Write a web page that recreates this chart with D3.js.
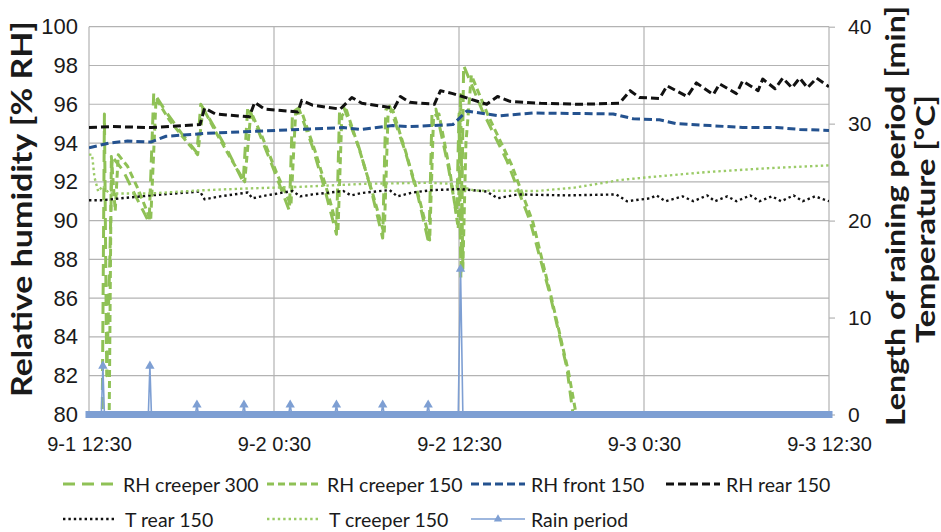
<!DOCTYPE html>
<html>
<head>
<meta charset="utf-8">
<script src="https://cdn.jsdelivr.net/npm/d3@7"></script>
<style>
  body { margin: 0; background: #fff; }
  svg { font-family: Lato, "DejaVu Sans", sans-serif; }
  .grid line { stroke: #b3b3b3; stroke-width: 1.2; }
  .axis text { fill: #1a1a1a; }
  .axis .tick line { stroke: #b3b3b3; stroke-width: 1.2; }
  .title { font-weight: bold; fill: #1a1a1a; }
</style>
</head>
<body>
<div id="chart"></div>
<script>
// x values are hours since 9-1 12:30
const tickHours = [0, 12, 24, 36, 48];
const tickLabels = ['9-1 12:30', '9-2 0:30', '9-2 12:30', '9-3 0:30', '9-3 12:30'];
const rhTicks = [80, 82, 84, 86, 88, 90, 92, 94, 96, 98, 100];
const rightTicks = [0, 10, 20, 30, 40];

// RH creeper 300 (% RH, left axis)
const creeper300Hours = [0, 0.85, 1.0, 1.15, 1.35, 1.5, 2.2, 3.0, 3.9, 4.2, 5.0, 6.0, 7.0,
  7.25, 8.0, 9.0, 10.0, 10.3, 11.0, 12.0, 13.0, 13.2, 13.6, 14.5, 15.3, 16.05,
  16.25, 16.5, 17.5, 18.3, 19.05, 19.25, 19.5, 20.5, 21.3, 22.05, 22.25, 22.5, 23.3, 23.85,
  24.0, 24.12, 24.3, 25.5, 27.1, 28.6, 29.9, 31.0, 31.4, 31.7, 48];
const creeper300RH = [79, 79, 95.5, 82, 88, 93.3, 92.6, 91.3, 89.9, 96.6, 95.6, 94.5, 93.5,
  96.0, 95.0, 93.6, 92.0, 95.9, 94.6, 92.6, 90.5, 95.6, 95.8, 93.8, 91.6, 89.3,
  95.6, 95.9, 93.8, 91.6, 89.1, 95.7, 95.9, 93.6, 91.4, 88.8, 95.6, 95.75, 92.8, 90.3,
  95.5, 87.0, 98.0, 95.7, 93.1, 90.0, 86.2, 82.4, 80.0, 78.5, 78.5];

// RH creeper 150
const creeper150Hours = [0, 1.3, 1.45, 1.7, 1.9, 2.5, 3.2, 4.0, 4.35, 5.2, 6.2, 7.05,
  7.4, 8.2, 9.2, 10.1, 10.5, 11.2, 12.2, 13.1, 13.4, 13.8, 14.7, 15.5, 16.15,
  16.4, 16.7, 17.6, 18.4, 19.15, 19.4, 19.7, 20.6, 21.4, 22.1, 22.35, 22.7, 23.4, 23.95,
  24.1, 24.25, 24.45, 24.8, 25.9, 27.4, 28.8, 30.0, 31.1, 31.6, 31.9, 48];
const creeper150RH = [79, 79, 93.3, 90.5, 93.4, 92.8, 91.6, 90.0, 96.3, 95.2, 94.2, 93.4,
  95.8, 94.6, 93.2, 92.0, 95.6, 94.4, 92.4, 90.8, 95.5, 95.6, 93.5, 91.4, 89.5,
  95.4, 95.7, 93.5, 91.4, 89.3, 95.5, 95.7, 93.4, 91.2, 89.0, 95.4, 95.5, 92.6, 89.6,
  96.5, 87.5, 94, 97.5, 95.4, 92.9, 89.9, 86.0, 82.2, 80.0, 78.5, 78.5];

// RH front 150
const frontHours = [0, 1.3, 2.5, 4.0, 5.0, 7.6, 10.6, 13.7, 16.5, 17.6, 19.7, 20.8, 23.6,
  24.5, 26.6, 28.8, 34.0, 35.3, 37.0, 38.1, 40.3, 42.4, 44.6, 46.1, 48];
const frontRH = [93.75, 94.0, 94.1, 94.05, 94.35, 94.5, 94.6, 94.7, 94.8, 94.7, 94.9, 94.85, 94.95,
  95.65, 95.4, 95.55, 95.5, 95.25, 95.2, 95.0, 94.9, 94.8, 94.8, 94.7, 94.65];

// RH rear 150
const rearHours = [0, 1.4, 4.0, 7.2, 7.5, 8.2, 10.4, 10.75, 11.4, 13.55, 13.8, 14.5, 16.3,
  17.05, 17.7, 19.8, 20.2, 20.8, 22.4, 22.8, 23.6, 25.8, 26.5, 27.3, 29.3, 31.8, 34.4,
  35.1, 35.7, 37.0, 37.5, 38.8, 39.4, 40.5, 40.9, 42.0, 42.4, 43.4, 43.7, 44.5, 45.0,
  45.6, 46.1, 46.6, 47.2, 48];
const rearRH = [94.8, 94.85, 94.8, 94.95, 95.8, 95.5, 95.35, 96.1, 95.75, 95.6, 96.2, 95.95, 95.75,
  96.35, 96.05, 95.8, 96.4, 96.1, 96.0, 96.7, 96.55, 96.0, 96.4, 96.15, 96.05, 96.0, 96.05,
  96.7, 96.35, 96.3, 96.95, 96.4, 97.1, 96.5, 97.05, 96.55, 97.2, 96.7, 97.3, 96.8, 97.35,
  96.85, 97.35, 96.85, 97.35, 96.9];

// T rear 150 (°C, right axis)
const tRearHours = [0, 0.8, 4.0, 7.2, 7.5, 8.5, 10.3, 10.6, 11.5, 13.2, 13.7, 14.5, 16.5,
  17.0, 17.7, 19.5, 20.0, 21.0, 22.3, 24.1, 25.8, 26.5, 27.8, 31.0, 34.2, 34.9, 36.4,
  36.8, 37.4, 38.5, 39.2, 40.1, 40.6, 41.4, 42.0, 42.9, 43.5, 44.3, 44.9, 45.7, 46.3, 47.1, 48];
const tRear = [22.1, 22.1, 22.6, 23.0, 22.2, 22.5, 22.9, 22.3, 22.6, 23.05, 22.5, 22.7, 23.05,
  22.6, 22.85, 23.15, 22.5, 22.9, 23.15, 23.25, 23.0, 22.3, 22.7, 22.6, 22.7, 22.0, 22.3,
  22.6, 22.0, 22.5, 22.0, 22.6, 22.0, 22.5, 22.0, 22.6, 22.0, 22.5, 22.0, 22.6, 22.0, 22.5, 22.0];

// T creeper 150
const tCreeperHours = [0, 0.2, 0.35, 0.6, 0.9, 1.3, 4.0, 7.0, 10.0, 14.0, 18.0, 22.0, 23.5,
  25.0, 29.0, 31.5, 34.5, 36.5, 40.0, 44.0, 48.0];
const tCreeper = [26.8, 26.8, 24.5, 23.0, 23.6, 22.8, 22.8, 23.1, 23.3, 23.5, 23.8, 23.9, 23.8,
  23.1, 23.05, 23.4, 24.2, 24.5, 25.0, 25.4, 25.7];

// Rain period (min, right axis)
const rainHours = [0, 0.8, 0.9, 1.0, 3.85, 3.95, 4.05, 6.9, 7.0, 7.1, 9.95, 10.05, 10.15,
  12.95, 13.05, 13.15, 15.95, 16.05, 16.15, 18.95, 19.05, 19.15, 21.9, 22.0, 22.1,
  23.95, 24.1, 24.25, 48];
const rainMinutes = [0, 0, 5, 0, 0, 5, 0, 0, 1, 0, 0, 1, 0,
  0, 1, 0, 0, 1, 0, 0, 1, 0, 0, 1, 0,
  0, 15, 0, 0];

const W = 941, H = 532;
const plot = {left: 89, right: 829, top: 26.7, bottom: 414.5};

const svg = d3.select('#chart').append('svg')
  .attr('width', W).attr('height', H);

const x = d3.scaleLinear().domain([0, 48]).range([plot.left, plot.right]);
const yL = d3.scaleLinear().domain([80, 100]).range([plot.bottom, plot.top]);
const yR = d3.scaleLinear().domain([0, 40]).range([plot.bottom, plot.top]);

// gridlines
const grid = svg.append('g').attr('class', 'grid');
grid.selectAll('line.h').data(rhTicks).join('line')
  .attr('x1', plot.left).attr('x2', plot.right)
  .attr('y1', d => yL(d)).attr('y2', d => yL(d));
grid.selectAll('line.v').data(tickHours).join('line')
  .attr('x1', d => x(d)).attr('x2', d => x(d))
  .attr('y1', plot.top).attr('y2', plot.bottom);

// axes
const leftAxis = svg.append('g').attr('class', 'axis')
  .attr('transform', `translate(${plot.left},0)`)
  .call(d3.axisLeft(yL).tickValues(rhTicks).tickSize(0).tickPadding(11));
leftAxis.selectAll('text').style('font-size', '22px');

const rightAxis = svg.append('g').attr('class', 'axis')
  .attr('transform', `translate(${plot.right},0)`)
  .call(d3.axisRight(yR).tickValues(rightTicks).tickSize(6).tickPadding(13));
rightAxis.selectAll('text').style('font-size', '21px');

const bottomAxis = svg.append('g').attr('class', 'axis')
  .attr('transform', `translate(0,${plot.bottom})`)
  .call(d3.axisBottom(x).tickValues(tickHours).tickFormat((d, i) => tickLabels[i])
    .tickSize(0).tickPadding(22));
bottomAxis.selectAll('text').style('font-size', '20px');

svg.selectAll('.axis .domain').remove();
svg.selectAll('.axis text').attr('font-family', null);

// axis titles (stretched a bit, the original face is wider)
function title(tx, ty, size, len, str) {
  svg.append('text').attr('class', 'title')
    .attr('transform', `translate(${tx},${ty}) rotate(-90)`)
    .attr('text-anchor', 'middle').attr('dominant-baseline', 'central')
    .attr('textLength', len).attr('lengthAdjust', 'spacingAndGlyphs')
    .style('font-size', size + 'px')
    .text(str);
}
title(21, 209, 28, 376, 'Relative humidity [% RH]');
title(894, 216, 27, 420, 'Length of raining period [min]');
title(924, 219, 27, 248, 'Temperature [°C]');

// series table
const green = '#8fc156';
const series = [
  {name: 'RH creeper 300', hours: creeper300Hours, values: creeper300RH, y: yL, color: green, dash: '12,7', width: 3},
  {name: 'RH creeper 150', hours: creeper150Hours, values: creeper150RH, y: yL, color: green, dash: '7,4', width: 3},
  {name: 'RH front 150', hours: frontHours, values: frontRH, y: yL, color: '#24528f', dash: '8,4', width: 3},
  {name: 'RH rear 150', hours: rearHours, values: rearRH, y: yL, color: '#111111', dash: '8,4', width: 3},
  {name: 'T rear 150', hours: tRearHours, values: tRear, y: yR, color: '#111111', dash: '2.4,3', width: 2.4},
  {name: 'T creeper 150', hours: tCreeperHours, values: tCreeper, y: yR, color: '#9bcb67', dash: '2.4,3', width: 2.4}
];

svg.append('clipPath').attr('id', 'plotClip')
  .append('rect')
  .attr('x', plot.left).attr('y', plot.top)
  .attr('width', plot.right - plot.left).attr('height', plot.bottom - plot.top + 1);

const lines = svg.append('g').attr('clip-path', 'url(#plotClip)');
series.forEach(s => {
  const pts = s.hours.map((h, i) => [h, s.values[i]]);
  const gen = d3.line().x(d => x(d[0])).y(d => s.y(d[1]));
  lines.append('path')
    .datum(pts)
    .attr('d', gen)
    .attr('fill', 'none')
    .attr('stroke', s.color)
    .attr('stroke-width', s.width)
    .attr('stroke-dasharray', s.dash)
    .attr('stroke-linejoin', 'round');
});

// rain period: line, marker band along zero, triangle markers
const rainColor = '#7e9fd3';
const rainPts = rainHours.map((h, i) => [h, rainMinutes[i]]);
const rainG = svg.append('g');
rainG.append('line')
  .attr('x1', x(d3.min(rainHours))).attr('x2', x(d3.max(rainHours)))
  .attr('y1', yR(0)).attr('y2', yR(0))
  .attr('stroke', rainColor).attr('stroke-width', 7).attr('stroke-linecap', 'square');
rainG.append('path')
  .datum(rainPts)
  .attr('d', d3.line().x(d => x(d[0])).y(d => yR(d[1])))
  .attr('fill', 'none').attr('stroke', rainColor).attr('stroke-width', 1.6);
rainG.selectAll('path.marker').data(rainPts.filter(d => d[1] > 0)).join('path')
  .attr('class', 'marker')
  .attr('d', d3.symbol(d3.symbolTriangle).size(38))
  .attr('transform', d => `translate(${x(d[0])},${yR(d[1])})`)
  .attr('fill', rainColor);

// legend
const legendItems = series.map(s => ({name: s.name, color: s.color, dash: s.dash, width: s.width}))
  .concat([{name: 'Rain period', color: rainColor, dash: null, width: 1.6, marker: true}]);
const legendX = [63, 267, 471, 666];
const legendRowY = [484, 519];
const legend = svg.append('g');
legendItems.forEach((it, i) => {
  const row = i < 4 ? 0 : 1;
  const col = i < 4 ? i : i - 4;
  const g = legend.append('g')
    .attr('transform', `translate(${legendX[col]},${legendRowY[row]})`);
  g.append('line')
    .attr('x1', 0).attr('x2', 54).attr('y1', 0).attr('y2', 0)
    .attr('stroke', it.color).attr('stroke-width', it.width)
    .attr('stroke-dasharray', it.dash);
  if (it.marker) {
    g.append('path')
      .attr('d', d3.symbol(d3.symbolTriangle).size(30))
      .attr('transform', 'translate(27,0)')
      .attr('fill', it.color);
  }
  g.append('text')
    .attr('x', row === 1 && col < 2 ? 62 : 60).attr('y', 0)
    .attr('dominant-baseline', 'central')
    .style('font-size', '19.5px').attr('fill', '#1a1a1a')
    .text(it.name);
});
</script>
</body>
</html>
